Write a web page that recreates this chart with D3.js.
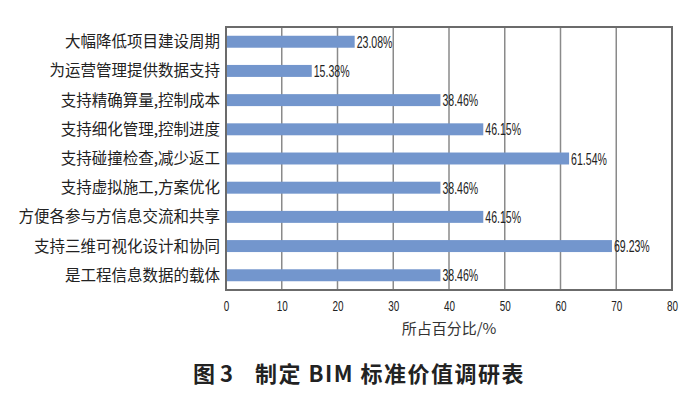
<!DOCTYPE html>
<html><head><meta charset="utf-8">
<script src="https://cdn.jsdelivr.net/npm/d3@7"></script>
<style>body{margin:0;background:#fff}</style>
</head><body>
<svg id="c" width="698" height="397"></svg>
<script>
const categories = ["大幅降低项目建设周期","为运营管理提供数据支持","支持精确算量,控制成本","支持细化管理,控制进度","支持碰撞检查,减少返工","支持虚拟施工,方案优化","方便各参与方信息交流和共享","支持三维可视化设计和协同","是工程信息数据的载体"];
const values = [23.08,15.38,38.46,46.15,61.54,38.46,46.15,69.23,38.46];
const valueLabels = ["23.08%","15.38%","38.46%","46.15%","61.54%","38.46%","46.15%","69.23%","38.46%"];
const xTicks = [0,10,20,30,40,50,60,70,80];
const xTitle = "所占百分比/%";
const captionNum = "图 3";
const captionText = "制定 BIM 标准价值调研表";

const svg = d3.select("#c");
const L=226, R=672, T=27, B=290;
const x = d3.scaleLinear().domain([0,80]).range([L,R]);
const y = d3.scaleBand().domain(categories).range([T,B]).paddingInner(0.59).paddingOuter(0.3);
const cjk = "'Noto Sans CJK SC', sans-serif";
const narrow = "'Liberation Sans', Arial, sans-serif";

// gridlines
svg.append("g").selectAll("line").data(xTicks.slice(1,-1)).join("line")
  .attr("x1",d=>x(d)).attr("x2",d=>x(d)).attr("y1",T).attr("y2",B)
  .attr("stroke","#8a8a8a").attr("stroke-width",1.5);
// border
svg.append("rect").attr("x",L).attr("y",T).attr("width",R-L).attr("height",B-T)
  .attr("fill","none").attr("stroke","#6b6b6b").attr("stroke-width",2);

// bars
svg.append("g").selectAll("rect").data(values).join("rect")
  .attr("x",x(0)+1).attr("y",(d,i)=>y(categories[i]))
  .attr("width",d=>x(d)-x(0)-1).attr("height",y.bandwidth())
  .attr("fill","#7396cd");

// value labels (condensed)
svg.append("g").selectAll("text").data(values).join("text")
  .attr("transform",(d,i)=>`translate(${x(d)+2},${y(categories[i])+y.bandwidth()/2+6}) scale(0.64,1)`)
  .attr("font-family",narrow).attr("font-size",16.5).attr("fill","#222")
  .text((d,i)=>valueLabels[i]);

// category labels
svg.append("g").selectAll("text").data(categories).join("text")
  .attr("x",L-6).attr("y",d=>y(d)+y.bandwidth()/2+5.5)
  .attr("text-anchor","end").attr("font-family",cjk).attr("font-size",15.5).attr("fill","#222")
  .text(d=>d);

// x axis
const ax = svg.append("g").attr("transform",`translate(0,${B})`)
  .call(d3.axisBottom(x).tickValues(xTicks).tickSize(0).tickPadding(10));
ax.select(".domain").remove();
ax.selectAll(".tick text").attr("font-family",narrow).attr("font-size",15.5).attr("fill","#222")
  .attr("transform","scale(0.64,1)");

svg.append("text").attr("x",x(40)).attr("y",334).attr("text-anchor","middle")
  .attr("font-family",cjk).attr("font-size",15).attr("fill","#333").text(xTitle);

const cap = svg.append("text").attr("y",382)
  .attr("font-family",cjk).attr("font-weight","bold").attr("font-size",22).attr("fill","#222");
cap.append("tspan").attr("x",193).text(captionNum);
cap.append("tspan").attr("x",255).attr("letter-spacing",1.5).text(captionText);
</script>
</body></html>
